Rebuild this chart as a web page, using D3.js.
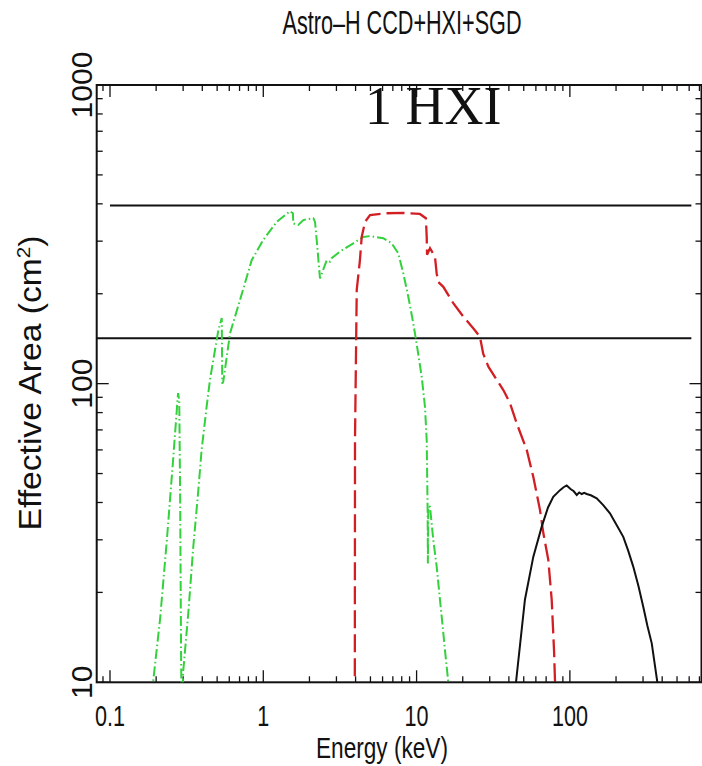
<!DOCTYPE html>
<html>
<head>
<meta charset="utf-8">
<script src="https://cdn.jsdelivr.net/npm/d3@7/dist/d3.min.js"></script>
<style>
  html, body { margin: 0; padding: 0; background: #fff; }
  svg { display: block; }
  text { font-family: "Liberation Sans", Arial, Helvetica, sans-serif; fill: #111; }
</style>
</head>
<body>
<svg id="chart" width="702" height="766"></svg>
<script>
// Effective area curves (energy in keV, area in cm^2)
const ccdEnergy = [0.185, 0.191, 0.212, 0.235, 0.258, 0.278, 0.283, 0.287, 0.291, 0.295,
  0.2995, 0.324, 0.3495, 0.377, 0.396, 0.427, 0.449, 0.509, 0.536, 0.540,
  0.548, 0.607, 0.705, 0.840, 1.0, 1.223, 1.494, 1.56, 1.569, 1.692,
  1.824, 2.12, 2.175, 2.23, 2.344, 2.592, 2.72, 2.79, 3.165, 3.865,
  4.49, 4.97, 6.06, 6.88, 7.60, 8.19, 8.83, 9.52, 10.0, 10.8,
  11.34, 11.64, 11.80, 11.85, 11.92, 12.23, 12.85, 13.52, 14.21, 14.58,
  15.32, 16.1, 16.6];
const ccdArea = [8, 10, 16.2, 30, 55.5, 93, 88, 40, 12, 6,
  10.7, 17.0, 28.5, 44, 60, 83.8, 103, 151, 166, 100,
  101.5, 147.5, 190.6, 259, 303, 348, 378, 372, 344, 340,
  353, 358, 348, 303, 225, 259, 256, 263, 277, 295,
  310, 312, 307, 295, 273, 234, 195.5, 159, 136.5, 105.4,
  83.8, 64.7, 38, 25, 38.7, 38.7, 30, 24.4, 18.9, 16.6,
  12.8, 10, 8];

const hxiEnergy = [3.95, 3.965, 4.07, 4.27, 4.385, 4.61, 4.97, 6.38, 8.18, 10.5,
  11.5, 11.64, 11.7, 12.23, 13.18, 13.52, 13.86, 14.94, 17.35, 20.2,
  24.0, 25.9, 27.2, 29.4, 33.3, 36.8, 40.7, 45.0, 52.3, 57.7,
  63.8, 67.1, 72.3, 76.1, 78.8, 80.0, 80.5];
const hxiArea = [5, 64.7, 206, 259, 310, 348, 367, 372, 373, 370,
  358, 310, 270, 284, 266, 234, 219, 211, 186, 167.5,
  151, 143.5, 126, 114, 103, 95.2, 86, 73.6, 60, 48.8,
  37.8, 31.6, 25.7, 18.9, 12.8, 10, 5];

const sgdEnergy = [43, 44.5, 50.9, 57.7, 65.5, 72, 77.9, 86.2, 91, 95.3,
  101, 106, 110.8, 115, 119.4, 124, 128.7, 137, 149.6, 165,
  182.6, 200, 223, 240, 259, 280, 301, 320, 342, 372, 380];
const sgdArea = [8, 10, 18.9, 26.3, 33.2, 38.5, 41.8, 44, 45.0, 45.6,
  44.4, 43.6, 42.4, 43.2, 42.7, 43.1, 42.7, 42.3, 41.3, 39.2,
  36.8, 33.9, 30.7, 27.6, 24.4, 21.0, 17.9, 15.5, 13.5, 10, 8];

// Reference levels drawn as horizontal lines
const refLevels = [395, 142];
const refStart = [0.1, 0.0819];
const refEnd = 620;

const xTickValues = [0.1, 1, 10, 100];
const xTickLabels = ["0.1", "1", "10", "100"];
const yTickValues = [10, 100, 1000];
const yTickLabels = ["10", "100", "1000"];

const titleText = "Astro\u2013H CCD+HXI+SGD";
const xLabel = "Energy (keV)";
const panelLabel = "1 HXI";

const svg = d3.select("#chart");
const plotLeft = 96.7, plotRight = 701.5, plotTop = 85, plotBottom = 682.3;

const x = d3.scaleLog().domain([0.0819, 722]).range([plotLeft, plotRight]);
const y = d3.scaleLog().domain([10, 1000]).range([plotBottom, plotTop]);

svg.append("defs").append("clipPath").attr("id", "plotClip")
  .append("rect").attr("x", plotLeft).attr("y", plotTop)
  .attr("width", plotRight - plotLeft).attr("height", plotBottom - plotTop);

// Major ticks at decades, minor ticks at 2..9
function logTicks(lo, hi) {
  const out = [];
  for (let d = Math.floor(Math.log10(lo)); d <= Math.ceil(Math.log10(hi)); d++) {
    for (let m = 1; m <= 9; m++) {
      const v = m * Math.pow(10, d);
      if (v >= lo && v <= hi) out.push({ v, major: m === 1 });
    }
  }
  return out;
}
const tickG = svg.append("g").attr("stroke", "#111").attr("stroke-width", 1.3);
logTicks(0.0819, 722).forEach(t => {
  const px = x(t.v), len = t.major ? 12 : 6;
  tickG.append("line").attr("x1", px).attr("x2", px).attr("y1", plotBottom).attr("y2", plotBottom - len);
  tickG.append("line").attr("x1", px).attr("x2", px).attr("y1", plotTop).attr("y2", plotTop + len);
});
logTicks(10, 1000).forEach(t => {
  const py = y(t.v), len = t.major ? 12 : 6;
  tickG.append("line").attr("y1", py).attr("y2", py).attr("x1", plotLeft).attr("x2", plotLeft + len);
  tickG.append("line").attr("y1", py).attr("y2", py).attr("x1", plotRight).attr("x2", plotRight - len);
});

// Frame
svg.append("rect").attr("x", plotLeft).attr("y", plotTop)
  .attr("width", plotRight - plotLeft).attr("height", plotBottom - plotTop)
  .attr("fill", "none").attr("stroke", "#111").attr("stroke-width", 2);

// Horizontal reference lines
refLevels.forEach((lv, i) => {
  svg.append("line")
    .attr("x1", x(refStart[i])).attr("x2", x(refEnd))
    .attr("y1", y(lv)).attr("y2", y(lv))
    .attr("stroke", "#111").attr("stroke-width", 2);
});

const line = d3.line().x(d => x(d[0])).y(d => y(d[1]));
const plot = svg.append("g").attr("clip-path", "url(#plotClip)");

plot.append("path").datum(d3.zip(ccdEnergy, ccdArea))
  .attr("d", line).attr("fill", "none")
  .attr("stroke", "#33d13c").attr("stroke-width", 2)
  .attr("stroke-dasharray", "10,3,1.5,3");

plot.append("path").datum(d3.zip(hxiEnergy, hxiArea))
  .attr("d", line).attr("fill", "none")
  .attr("stroke", "#d21f24").attr("stroke-width", 2.3)
  .attr("stroke-dasharray", "18,6");

plot.append("path").datum(d3.zip(sgdEnergy, sgdArea))
  .attr("d", line).attr("fill", "none")
  .attr("stroke", "#111").attr("stroke-width", 2);

// Tick labels (narrow sans face)
svg.append("g").selectAll("text").data(xTickValues).join("text")
  .attr("transform", d => `translate(${x(d)},726) scale(0.72,1)`)
  .attr("text-anchor", "middle").attr("font-size", 30)
  .text((d, i) => xTickLabels[i]);

svg.append("g").selectAll("text").data(yTickValues).join("text")
  .attr("transform", d => `translate(92,${y(d)}) rotate(-90)`)
  .attr("text-anchor", "middle").attr("font-size", 30)
  .text((d, i) => yTickLabels[i]);

// Titles
svg.append("text").attr("x", 402).attr("y", 34)
  .attr("text-anchor", "middle").attr("font-size", 33)
  .attr("textLength", 239).attr("lengthAdjust", "spacingAndGlyphs")
  .text(titleText);

svg.append("text").attr("x", 382).attr("y", 758)
  .attr("text-anchor", "middle").attr("font-size", 30)
  .attr("textLength", 132).attr("lengthAdjust", "spacingAndGlyphs")
  .text(xLabel);

const yl = svg.append("text")
  .attr("transform", "translate(41,383) rotate(-90)")
  .attr("text-anchor", "middle").attr("font-size", 31)
  .attr("textLength", 295).attr("lengthAdjust", "spacingAndGlyphs");
yl.append("tspan").text("Effective Area (cm");
yl.append("tspan").attr("font-size", 19).attr("dy", -11).text("2");
yl.append("tspan").attr("dy", 11).text(")");

svg.append("text").attr("x", 365).attr("y", 123.5)
  .style("font-family", "'Liberation Serif', 'Times New Roman', serif")
  .attr("font-size", 54)
  .text(panelLabel);
</script>
</body>
</html>
